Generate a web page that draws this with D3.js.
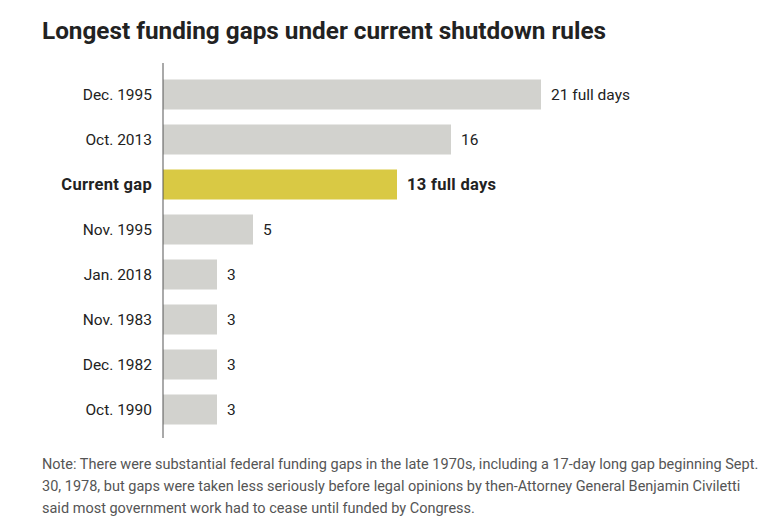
<!DOCTYPE html>
<html>
<head>
<meta charset="utf-8">
<script src="https://cdn.jsdelivr.net/npm/d3@7"></script>
<style>
body { margin:0; background:#fff; }
svg text { font-family:"Roboto",sans-serif; }
</style>
</head>
<body>
<div id="chart"></div>
<script>
var labels = ["Dec. 1995","Oct. 2013","Current gap","Nov. 1995","Jan. 2018","Nov. 1983","Dec. 1982","Oct. 1990"];
var days = [21,16,13,5,3,3,3,3];
var value_text = ["21 full days","16","13 full days","5","3","3","3","3"];
var highlight = "Current gap";
var title_text = "Longest funding gaps under current shutdown rules";
var note_lines = [
	"Note: There were substantial federal funding gaps in the late 1970s, including a 17-day long gap beginning Sept.",
	"30, 1978, but gaps were taken less seriously before legal opinions by then-Attorney General Benjamin Civiletti",
	"said most government work had to cease until funded by Congress."
];

var width = 780, height = 522;
var svg = d3.select("#chart").append("svg").attr("width",width).attr("height",height);

// title
svg.append("text").attr("x",42).attr("y",39).text(title_text)
	.style("font-weight","bold")
	.style("font-size","24.3px").style("fill","#222");

var x = d3.scaleLinear().domain([0,21]).range([163,541]);
var y = d3.scaleBand().domain(labels).range([72,432]).paddingInner(1/3).paddingOuter(1/6);

var rows = svg.selectAll(".row").data(labels).enter().append("g").attr("class","row");

rows.append("rect")
	.attr("x",x(0)).attr("y",function(d){ return y(d); })
	.attr("width",function(d,i){ return x(days[i]) - x(0); })
	.attr("height",y.bandwidth())
	.style("fill",function(d){ return d == highlight ? "#d9c944" : "#d2d2ce"; });

function isHi(d){ return d == highlight; }

// category labels
rows.append("text")
	.attr("x",x(0)-11).attr("y",function(d){ return y(d) + y.bandwidth()/2; })
	.attr("dy","0.35em").attr("text-anchor","end")
	.text(function(d){ return d; })
	.style("font-size",function(d){ return isHi(d) ? "16.5px" : "15.5px"; })
	.style("letter-spacing",function(d){ return isHi(d) ? "0.3px" : "0px"; })
	.style("fill","#222")
	.style("font-weight",function(d){ return isHi(d) ? "bold" : "normal"; });

// value labels
rows.append("text")
	.attr("x",function(d,i){ return x(days[i]) + 10; })
	.attr("y",function(d){ return y(d) + y.bandwidth()/2; })
	.attr("dy","0.35em")
	.text(function(d,i){ return value_text[i]; })
	.style("font-size",function(d){ return isHi(d) ? "16.5px" : "15.5px"; })
	.style("letter-spacing",function(d){ return isHi(d) ? "0.3px" : "0px"; })
	.style("fill","#222")
	.style("font-weight",function(d){ return isHi(d) ? "bold" : "normal"; });

// axis line
svg.append("line").attr("x1",x(0)).attr("x2",x(0)).attr("y1",63).attr("y2",438)
	.style("stroke","#555").style("stroke-width",1);

// note
svg.append("g").selectAll("text").data(note_lines).enter().append("text")
	.attr("x",42).attr("y",function(d,i){ return 469 + i*22; })
	.text(function(d){ return d; })
	.style("font-size","14.5px").style("fill","#555");
</script>
</body>
</html>
